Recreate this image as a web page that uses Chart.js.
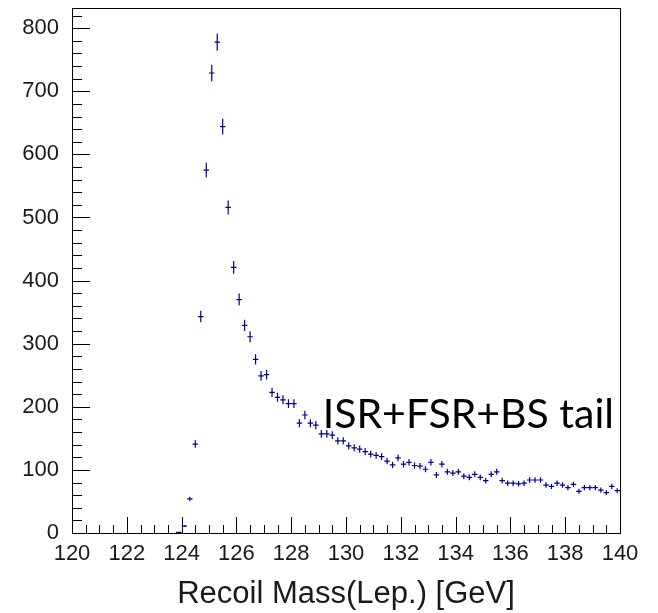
<!DOCTYPE html>
<html>
<head>
<meta charset="utf-8">
<script src="https://cdn.jsdelivr.net/npm/chart.js@4.4.0/dist/chart.umd.min.js"></script>
<style>
html, body { margin: 0; padding: 0; background: #fff; }
</style>
</head>
<body>
<canvas id="recoilChart" width="658" height="613"></canvas>
<script>
// bin centres (0.2 GeV bins) and their contents
var massBins = [
    123.9, 124.1, 124.3, 124.5, 124.7, 124.9, 125.1, 125.3, 125.5, 125.7,
    125.9, 126.1, 126.3, 126.5, 126.7, 126.9, 127.1, 127.3, 127.5, 127.7,
    127.9, 128.1, 128.3, 128.5, 128.7, 128.9, 129.1, 129.3, 129.5, 129.7,
    129.9, 130.1, 130.3, 130.5, 130.7, 130.9, 131.1, 131.3, 131.5, 131.7,
    131.9, 132.1, 132.3, 132.5, 132.7, 132.9, 133.1, 133.3, 133.5, 133.7,
    133.9, 134.1, 134.3, 134.5, 134.7, 134.9, 135.1, 135.3, 135.5, 135.7,
    135.9, 136.1, 136.3, 136.5, 136.7, 136.9, 137.1, 137.3, 137.5, 137.7,
    137.9, 138.1, 138.3, 138.5, 138.7, 138.9, 139.1, 139.3, 139.5, 139.7,
    139.9
];
var eventCounts = [
    1, 11, 54, 141, 343, 575, 729, 778, 644, 516,
    421, 370, 329, 311, 275, 249, 251, 223, 215, 211,
    205, 205, 174, 187, 174, 171, 157, 157, 155, 146,
    146, 138, 135, 133, 129, 125, 123, 121, 114, 108,
    119, 109, 112, 107, 106, 101, 112, 92, 109, 97,
    95, 97, 90, 88, 93, 88, 83, 93, 97, 83,
    79, 79, 78, 79, 84, 84, 84, 76, 74, 79,
    76, 72, 77, 66, 72, 72, 72, 68, 64, 74,
    67
];
var xTickLabels = [120, 122, 124, 126, 128, 130, 132, 134, 136, 138, 140];
var yTickLabels = [0, 100, 200, 300, 400, 500, 600, 700, 800];

var binWidth = 0.2;
var eventWeight = 0.24;   // weighted events: error = sqrt(w * content)
var markerColor = '#00008f';

var points = massBins.map(function (m, i) {
    return { x: m, y: eventCounts[i] };
});

// ROOT style error crosses, inner ticks, frame and the annotation
var rootStyle = {
    id: 'rootStyle',
    afterDatasetsDraw: function (chart) {
        var ctx = chart.ctx;
        var xs = chart.scales.x;
        var ys = chart.scales.y;
        var area = chart.chartArea;

        ctx.save();
        ctx.strokeStyle = markerColor;
        ctx.lineWidth = 1.2;
        points.forEach(function (p) {
            var err = Math.sqrt(eventWeight * p.y);
            var px = xs.getPixelForValue(p.x);
            var py = ys.getPixelForValue(p.y);
            ctx.beginPath();
            ctx.moveTo(xs.getPixelForValue(p.x - binWidth / 2), py);
            ctx.lineTo(xs.getPixelForValue(p.x + binWidth / 2), py);
            ctx.moveTo(px, ys.getPixelForValue(Math.max(p.y - err, 0)));
            ctx.lineTo(px, ys.getPixelForValue(p.y + err));
            ctx.stroke();
        });
        ctx.restore();

        ctx.save();
        ctx.strokeStyle = '#000';
        ctx.lineWidth = 1;
        ctx.beginPath();
        var v, len, px, py;
        for (v = 120; v <= 140.001; v += 0.5) {
            len = (Math.round(v * 2) % 4 === 0) ? 16 : 8;
            px = Math.round(xs.getPixelForValue(v)) + 0.5;
            ctx.moveTo(px, area.bottom);
            ctx.lineTo(px, area.bottom - len);
        }
        for (v = 0; v <= 832; v += 20) {
            len = (v % 100 === 0) ? 18 : 10;
            py = Math.round(ys.getPixelForValue(v)) + 0.5;
            ctx.moveTo(area.left, py);
            ctx.lineTo(area.left + len, py);
        }
        ctx.stroke();
        ctx.strokeRect(Math.round(area.left) + 0.5, Math.round(area.top) + 0.5,
            Math.round(area.right - area.left), Math.round(area.bottom - area.top));
        ctx.restore();

        ctx.save();
        ctx.fillStyle = '#000';
        ctx.font = '41px Lato';
        ctx.textBaseline = 'alphabetic';
        ctx.fillText('ISR+FSR+BS tail', xs.getPixelForValue(129.15), ys.getPixelForValue(166));
        ctx.restore();
    }
};

var ctx = document.getElementById('recoilChart').getContext('2d');
var recoilChart = new Chart(ctx, {
    type: 'scatter',
    data: {
        datasets: [{
            label: 'Recoil mass',
            data: points,
            pointRadius: 0,
            showLine: false
        }]
    },
    options: {
        responsive: false,
        animation: false,
        layout: { padding: { left: 0, top: 8, right: 38, bottom: 0 } },
        plugins: {
            legend: { display: false },
            tooltip: { enabled: false }
        },
        scales: {
            x: {
                type: 'linear',
                min: 120,
                max: 140,
                grid: { display: false },
                border: { display: false },
                ticks: {
                    color: '#1a1a1a',
                    font: { family: 'Liberation Sans', size: 22 },
                    padding: 0,
                    maxRotation: 0,
                    autoSkip: false
                },
                title: {
                    display: true,
                    text: 'Recoil Mass(Lep.) [GeV]',
                    color: '#1a1a1a',
                    font: { family: 'Liberation Sans', size: 31 },
                    padding: { top: 0, bottom: 0 }
                },
                afterBuildTicks: function (scale) {
                    scale.ticks = xTickLabels.map(function (v) { return { value: v }; });
                },
                afterFit: function (scale) {
                    scale.height = 80;
                    scale.paddingLeft = 0;
                    scale.paddingRight = 0;
                }
            },
            y: {
                type: 'linear',
                min: 0,
                max: 832,
                grid: { display: false },
                border: { display: false },
                ticks: {
                    color: '#1a1a1a',
                    font: { family: 'Liberation Sans', size: 22 },
                    padding: 5
                },
                afterBuildTicks: function (scale) {
                    scale.ticks = yTickLabels.map(function (v) { return { value: v }; });
                },
                afterFit: function (scale) {
                    scale.width = 72;
                    scale.paddingTop = 0;
                    scale.paddingBottom = 0;
                }
            }
        }
    },
    plugins: [rootStyle]
});
</script>
</body>
</html>
